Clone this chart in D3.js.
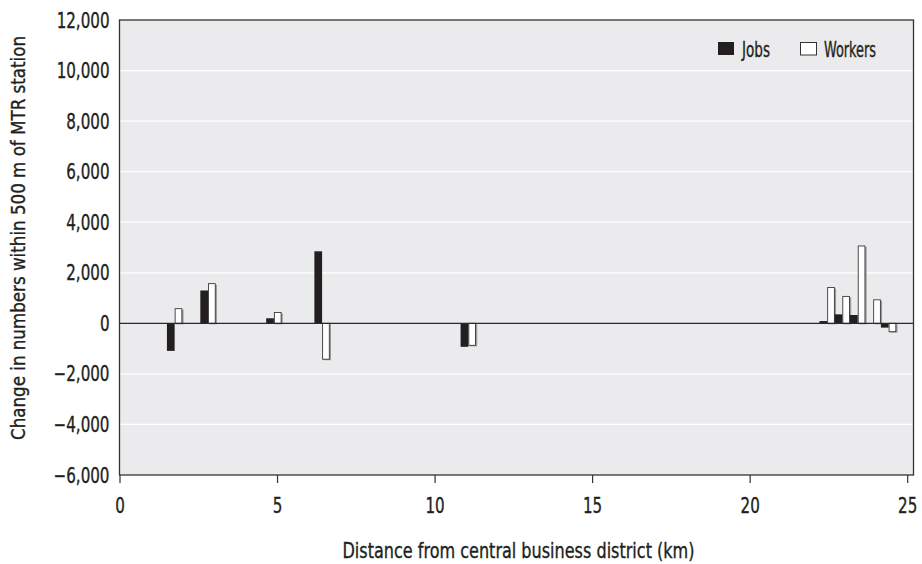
<!DOCTYPE html>
<html>
<head>
<meta charset="utf-8">
<script src="https://cdn.jsdelivr.net/npm/d3@7"></script>
<style>
  body { margin: 0; background: #ffffff; }
  svg text { font-family: "DejaVu Sans Condensed", "Liberation Sans Narrow", sans-serif; fill: #231f20; stroke: #231f20; stroke-width: 0.35px; }
</style>
</head>
<body>
<svg id="chart" width="922" height="564"></svg>
<script>
// ---- data ----
const distances = [1.75, 2.81, 4.90, 6.43, 11.07, 22.46, 22.94, 23.43, 23.92, 24.41];
const jobs      = [-1090, 1300, 200, 2850, -930, 90, 355, 330, 0, -170];
const workers   = [580, 1570, 430, -1420, -870, 1420, 1065, 3060, 930, -330];
const seriesNames = ["Jobs", "Workers"];
const xTicks = [0, 5, 10, 15, 20, 25];
const yTicks = [-6000, -4000, -2000, 0, 2000, 4000, 6000, 8000, 10000, 12000];
const xTitle = "Distance from central business district (km)";
const yTitle = "Change in numbers within 500 m of MTR station";

(function () {
// ---- layout ----
const pL = 119.5, pR = 913.5, pT = 20, pB = 475;
const barW = 0.245; // km
const K = 0.8; // horizontal squeeze for condensed look

function squeeze(sel, k) {
  sel.each(function () {
    const w = this.getComputedTextLength();
    d3.select(this).attr("textLength", w * k).attr("lengthAdjust", "spacingAndGlyphs");
  });
}
function fitTo(sel, len) {
  sel.attr("textLength", len).attr("lengthAdjust", "spacingAndGlyphs");
}

const svg = d3.select("#chart");
const x = d3.scaleLinear().domain([0, 25.2]).range([pL, pR]);
const y = d3.scaleLinear().domain([-6000, 12000]).range([pB, pT]);

// plot background
svg.append("rect").attr("x", pL).attr("y", pT)
  .attr("width", pR - pL).attr("height", pB - pT)
  .attr("fill", "#ebebed");

// gridlines
svg.append("g").selectAll("line").data(yTicks.filter(d => d !== 0 && d !== 12000 && d !== -6000))
  .join("line")
  .attr("x1", pL).attr("x2", pR)
  .attr("y1", d => y(d)).attr("y2", d => y(d))
  .attr("stroke", "#ffffff").attr("stroke-width", 1.3);

// bars
const data = distances.map((d, i) => ({ d, jobs: jobs[i], workers: workers[i] }));
const g = svg.append("g");
g.selectAll("rect.wsh").data(data).join("rect").attr("class", "wsh")
  .attr("x", d => x(d.d) + 1.2)
  .attr("y", d => Math.min(y(d.workers), y(0)) + 1)
  .attr("width", d => x(d.d + barW) - x(d.d))
  .attr("height", d => Math.abs(y(d.workers) - y(0)))
  .attr("fill", "#9a9a9a");
g.selectAll("rect.w").data(data).join("rect").attr("class", "w")
  .attr("x", d => x(d.d) + 0.5)
  .attr("y", d => Math.min(y(d.workers), y(0)))
  .attr("width", d => x(d.d + barW) - x(d.d) - 1)
  .attr("height", d => Math.abs(y(d.workers) - y(0)))
  .attr("fill", "#ffffff").attr("stroke", "#3a3a3a").attr("stroke-width", 0.9);
g.selectAll("rect.j").data(data.filter(d => d.jobs !== 0)).join("rect").attr("class", "j")
  .attr("x", d => x(d.d - barW))
  .attr("y", d => Math.min(y(d.jobs), y(0)))
  .attr("width", d => x(d.d) - x(d.d - barW))
  .attr("height", d => Math.abs(y(d.jobs) - y(0)))
  .attr("fill", "#231f20");

// zero line
svg.append("line").attr("x1", pL).attr("x2", pR)
  .attr("y1", y(0)).attr("y2", y(0))
  .attr("stroke", "#2a2a2a").attr("stroke-width", 1.4);

// border
svg.append("rect").attr("x", pL).attr("y", pT)
  .attr("width", pR - pL).attr("height", pB - pT)
  .attr("fill", "none").attr("stroke", "#333333").attr("stroke-width", 1.3);

// y axis labels
const fmt = v => (v < 0 ? "\u2212" : "") + d3.format(",")(Math.abs(v));
const yl = svg.append("g").selectAll("text").data(yTicks).join("text")
  .attr("x", 109.5).attr("y", d => y(d)).attr("dy", "0.36em")
  .attr("text-anchor", "end").attr("font-size", 21)
  .text(fmt);
squeeze(yl, K);

// x axis
const xAxis = d3.axisBottom(x).tickValues(xTicks).tickSize(8).tickPadding(15).tickFormat(d3.format("d"));
const xg = svg.append("g").attr("transform", `translate(0,${pB})`).call(xAxis);
xg.select(".domain").remove();
xg.selectAll(".tick line").attr("stroke", "#333").attr("stroke-width", 1.2);
const xl = xg.selectAll(".tick text").attr("font-size", 21).attr("fill", "#231f20")
  .style("font-family", "'DejaVu Sans Condensed', 'Liberation Sans Narrow', sans-serif");
squeeze(xl, K);

// axis titles
const xt = svg.append("text").attr("x", (pL + pR) / 2 + 2).attr("y", 558)
  .attr("text-anchor", "middle").attr("font-size", 21).text(xTitle);
fitTo(xt, 352);
const yt = svg.append("text")
  .attr("transform", "rotate(-90)")
  .attr("x", -238).attr("y", 25)
  .attr("text-anchor", "middle").attr("font-size", 20).text(yTitle);
fitTo(yt, 404);

// legend
const lg = svg.append("g");
lg.append("rect").attr("x", 718).attr("y", 42).attr("width", 16).attr("height", 13).attr("fill", "#231f20");
fitTo(lg.append("text").attr("x", 742).attr("y", 49).attr("dy", "0.36em").attr("font-size", 21).text(seriesNames[0]), 28);
lg.append("rect").attr("x", 800.5).attr("y", 42.5).attr("width", 16).attr("height", 12.5)
  .attr("fill", "#ffffff").attr("stroke", "#333").attr("stroke-width", 1);
fitTo(lg.append("text").attr("x", 824).attr("y", 49).attr("dy", "0.36em").attr("font-size", 21).text(seriesNames[1]), 52);
})();
</script>
</body>
</html>
